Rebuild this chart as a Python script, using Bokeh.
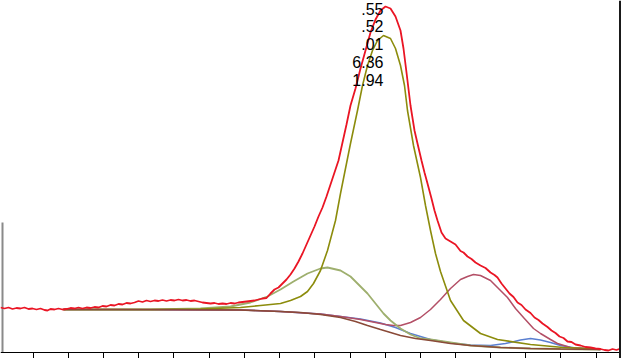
from bokeh.plotting import figure
from bokeh.models import Range1d, Span
from bokeh.core.properties import value
from bokeh.embed import file_html
from bokeh.resources import INLINE

# ---- data (x = channel, y = intensity, arbitrary units) ----
tick_positions = [33, 68, 103, 138, 173, 209, 244, 279, 314, 350, 385, 420, 455, 490, 525, 560, 596]

env_x = [0, 4, 8, 12, 16, 20, 24, 28, 32, 36, 40, 44, 47, 50, 54, 58, 62, 66, 70, 74, 78, 82, 86, 90, 94, 98,
         102, 106, 110, 114, 118, 122, 126, 130, 134, 138, 142, 146, 150, 154, 158, 162, 166, 170, 174, 178,
         182, 186, 190, 194, 198, 202, 206, 210, 214, 218, 222, 226, 230, 234, 238, 242, 246, 250, 254, 258,
         262, 266, 270, 274, 278, 282, 286, 290, 294, 298, 302, 306, 310, 314, 318, 322, 326, 330, 334, 338,
         342, 346, 350, 355, 360, 365, 370, 375, 380, 385, 390, 395, 400, 403, 406, 410, 414, 417, 421, 424,
         427, 431, 434, 437, 441, 445, 450, 455, 460, 463, 467, 471, 475, 480, 485, 490, 494, 497, 501, 505,
         509, 513, 517, 521, 525, 530, 534, 538, 542, 547, 551, 555, 559, 563, 567, 571, 575, 580, 585, 590,
         595, 600, 604, 608, 612, 616, 620]
env_y = [45, 44, 45, 43.5, 44.5, 44, 45, 43.5, 44, 43, 44, 42.5, 42, 43.5, 43, 44, 43, 43.5, 44.5, 44, 45, 44,
         45, 44.5, 45.5, 45, 46.5, 46, 47.5, 47, 48.5, 48, 49.5, 49, 50, 51.5, 50.5, 52, 51, 52, 51.5, 52.5,
         51.5, 52.5, 52, 53, 52, 52.5, 51.5, 52, 51, 50, 49.5, 49, 49.5, 48.5, 49, 48.5, 49.5, 49, 50, 50.5,
         51, 51.5, 52, 53, 54, 54.5, 59, 63, 65, 69, 73, 78, 84, 91, 99, 108, 117, 126, 136, 145, 156, 168,
         180, 192, 210, 228, 247, 264, 284, 302, 320, 333, 342, 346, 344, 336, 322, 304, 280, 247, 222, 209,
         192, 180, 169, 154, 142, 132, 120, 114, 111, 108, 101.5, 100, 96, 93.5, 90, 87, 84.5, 80, 77.5, 75,
         69, 64, 59, 55.5, 50, 47.5, 43, 39.5, 35, 32.5, 29, 25.5, 22, 19.5, 16, 14.5, 11, 10.5, 8, 7, 5.5,
         5, 4, 3.5, 2.5, 2, 3.5, 2.5, 4]

bg_x = [63, 150, 240, 280, 300, 320, 340, 355, 367, 380, 390, 400, 415, 430, 450, 470, 500, 530, 560, 600]
bg_y = [43, 43, 42.5, 41, 40, 38, 35, 31, 27, 23, 20, 17, 14, 12, 9, 7, 5, 4, 3.5, 3]

main_x = [63, 150, 200, 240, 260, 280, 290, 300, 307, 313, 320, 327, 335, 340, 345, 350, 357, 362, 367, 372,
          377, 383, 390, 395, 400, 404, 407, 413, 420, 425, 430, 435, 440, 450, 463, 480, 497, 530, 563, 600]
main_y = [43, 43, 43.5, 45, 47, 49, 52, 56, 61, 69, 82, 102, 132, 159, 184, 209, 242, 267, 287, 302,
          312, 317, 314, 304, 287, 267, 242, 207, 175, 147, 122, 99, 81, 52, 32, 19, 13, 8, 5, 3.5]

low_x = [63, 150, 200, 230, 250, 267, 280, 293, 307, 320, 327, 340, 350, 360, 367, 375, 383, 390, 400, 410,
         420, 430, 450, 470, 500, 530, 560, 600]
low_y = [43, 43, 44, 46, 50, 56, 63, 71, 79, 84, 85, 82, 76, 66, 59, 49, 39, 32, 24, 18,
         14, 13, 10, 7, 5, 4, 3.5, 3]

high_x = [63, 240, 280, 320, 340, 360, 375, 385, 393, 400, 410, 420, 430, 440, 450, 460, 467, 473, 480, 490,
          500, 507, 515, 523, 533, 540, 550, 557, 570, 585, 600]
high_y = [43, 42.5, 41, 38.5, 36, 33, 30, 28, 27, 27, 30, 35, 43, 53, 64, 73, 76, 78, 77, 72,
          62, 55, 44, 35, 24, 19, 13, 9, 5, 4, 3]

small_x = [63, 240, 280, 320, 340, 360, 380, 395, 410, 430, 450, 470, 490, 505, 520, 530, 540, 550, 560, 575, 600]
small_y = [43, 42.5, 41, 38.5, 36, 33.5, 29.5, 25, 19, 13, 9.5, 7.5, 7, 9, 12.5, 14, 12.5, 10, 7, 4.5, 3]

peak_labels = [".55", ".52", ".01", "6.36", "1.94"]
label_x = [383, 383, 383, 383, 383]
label_y = [344, 327, 309, 291, 273]

# ---- figure ----
p = figure(width=621, height=358, output_backend="svg", toolbar_location=None,
           x_range=Range1d(0, 621), y_range=Range1d(-6, 352),
           min_border_left=0, min_border_right=0, min_border_top=0, min_border_bottom=0)
p.xgrid.visible = False
p.ygrid.visible = False
p.xaxis.visible = False
p.yaxis.visible = False
p.outline_line_color = None
p.background_fill_color = "white"
p.border_fill_color = "white"

# bottom axis line with outward ticks (tick labels lie outside the visible crop)
p.add_layout(Span(location=0, dimension="width", line_color="black", line_width=1))
p.segment(x0=tick_positions, y0=[0] * len(tick_positions), x1=tick_positions,
          y1=[-6] * len(tick_positions), line_color="black", line_width=1)

# partial left axis line and right border
p.segment(x0=[2], y0=[0], x1=[2], y1=[130], line_color="#8a8a8a", line_width=2)
p.add_layout(Span(location=619.5, dimension="height", line_color="#1a1a1a", line_width=2))

# components
p.line(small_x, small_y, line_color="#5a7fd0", line_width=1.5)
p.line(high_x, high_y, line_color="#b34f66", line_width=1.5)
p.line(low_x, low_y, line_color="#9eaf6e", line_width=1.8)
p.line(main_x, main_y, line_color="#8c8c0c", line_width=1.6)
p.line(bg_x, bg_y, line_color="#8a4a38", line_width=1.6)
# envelope / spectrum
p.line(env_x, env_y, line_color="#ea1524", line_width=1.8)

p.text(x=label_x, y=label_y, text=peak_labels, text_align="right", text_baseline="middle",
       text_font=value("Liberation Sans"), text_font_size="16px", text_color="black")

open("out.html", "w").write(file_html(p, INLINE))
